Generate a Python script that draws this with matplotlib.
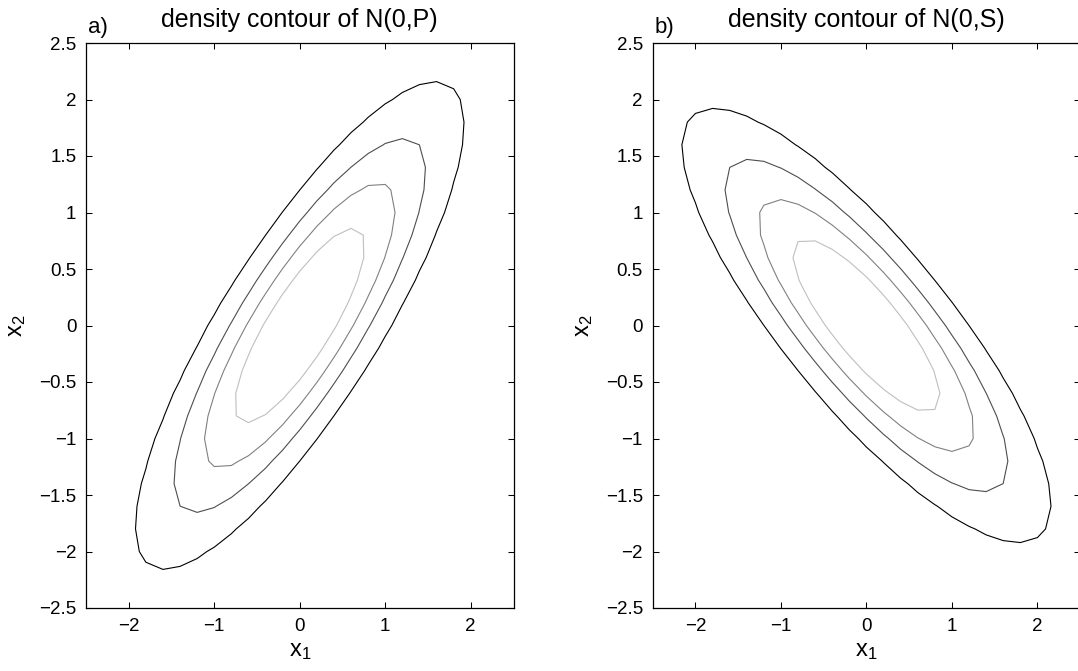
import numpy as np
import matplotlib
matplotlib.use('Agg')
import matplotlib.pyplot as plt
from matplotlib.ticker import FuncFormatter

# ---- data ----
P = [[1.22, 1.14], [1.14, 1.54]]          # covariance of panel a
S = [[1.54, -1.14], [-1.14, 1.22]]        # covariance of panel b
grid_pts = np.linspace(-3, 3, 31)          # coarse evaluation grid (step 0.2)
level_fracs = [0.22, 0.41, 0.595, 0.78]    # contour levels as fraction of peak density
level_colors = ['0.0', '0.3', '0.5', '0.75']
panel_tags = ['a)', 'b)']
titles = ['density contour of N(0,P)', 'density contour of N(0,S)']
xticks = [-2, -1, 0, 1, 2]
yticks = [-2.5, -2, -1.5, -1, -0.5, 0, 0.5, 1, 1.5, 2, 2.5]

plt.rcParams['font.family'] = ['Liberation Sans', 'DejaVu Sans']
plt.rcParams['mathtext.fontset'] = 'custom'
plt.rcParams['mathtext.rm'] = 'Liberation Sans'
plt.rcParams['mathtext.it'] = 'Liberation Sans'
plt.rcParams['mathtext.default'] = 'regular'


def density(cov, X, Y):
    cov = np.asarray(cov)
    inv = np.linalg.inv(cov)
    q = inv[0, 0] * X**2 + 2 * inv[0, 1] * X * Y + inv[1, 1] * Y**2
    return np.exp(-0.5 * q) / (2 * np.pi * np.sqrt(np.linalg.det(cov)))


W, H = 1078, 671
fig = plt.figure(figsize=(W / 100, H / 100), dpi=100)
ax_w = 427.5 / W
ax_h = 565 / H
ax_b = (H - 608) / H
lefts = [86 / W, 652.7 / W]

X, Y = np.meshgrid(grid_pts, grid_pts)
fmt = FuncFormatter(lambda v, _: f'{v:g}'.replace('-', '\u2212'))

for i, cov in enumerate([P, S]):
    ax = fig.add_axes([lefts[i], ax_b, ax_w, ax_h])
    Z = density(cov, X, Y)
    levels = [f * Z.max() for f in level_fracs]
    ax.contour(X, Y, Z, levels=levels, colors=level_colors, linewidths=0.8)
    ax.set_xlim(-2.5, 2.5)
    ax.set_ylim(-2.5, 2.5)
    ax.set_xticks(xticks)
    ax.set_yticks(yticks)
    ax.xaxis.set_major_formatter(fmt)
    ax.yaxis.set_major_formatter(fmt)
    ax.tick_params(direction='in', top=True, right=True, length=4, width=0.75,
                   labelsize=13.5, pad=7)
    for sp in ax.spines.values():
        sp.set_linewidth(0.9)
    ax.set_xlabel('x$_1$', fontsize=17, labelpad=4)
    ax.set_ylabel('x$_2$', fontsize=17, labelpad=8)
    cx = lefts[i] + ax_w / 2
    fig.text(cx, 1 - 27.5 / H, titles[i], ha='center', va='baseline', fontsize=18)
    fig.text(lefts[i] + 2 / W, 1 - 33 / H, panel_tags[i], ha='left', va='baseline',
             fontsize=16)

fig.savefig('out.png', dpi=100)
